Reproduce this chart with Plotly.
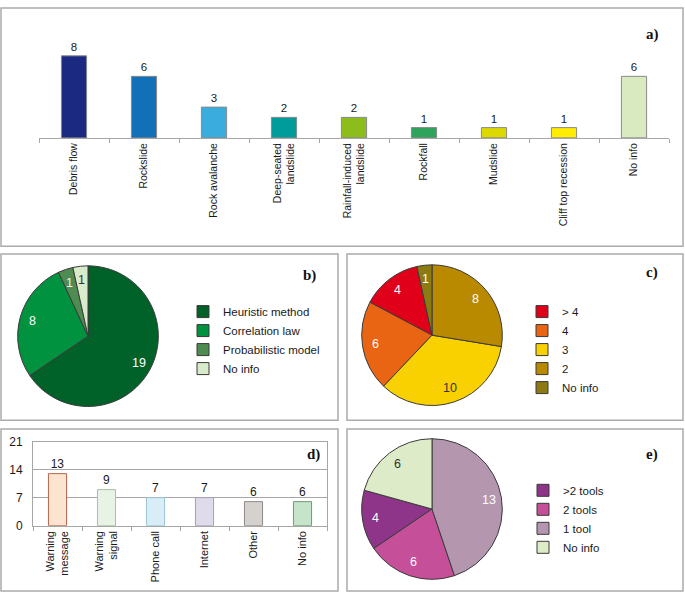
import math
import plotly.graph_objects as go

# ---------------- data ----------------
# a) landslide types
type_labels = ["Debris flow", "Rockslide", "Rock avalanche", "Deep-seated<br>landslide",
               "Rainfall-induced<br>landslide", "Rockfall", "Mudslide", "Cliff top recession", "No info"]
type_counts = [8, 6, 3, 2, 2, 1, 1, 1, 6]
type_colors = ["#1B2A80", "#1170B8", "#3AACDE", "#009B9B", "#8CBD1A",
               "#2EA35C", "#DCD800", "#FFEC00", "#D9EAC0"]

# b) method
method_labels = ["Heuristic method", "Correlation law", "Probabilistic model", "No info"]
method_counts = [19, 8, 1, 1]
method_colors = ["#006129", "#00923F", "#4F8C52", "#D8EBCB"]
method_text = ["white", "white", "#F0F0F0", "#333333"]

# c) number of levels (trailing nbsp keeps legend entries separate from other pies)
level_labels = ["> 4", "4", "3", "2", "No info\u00a0"]
level_counts = [4, 6, 10, 8, 1]
level_colors = ["#E1001A", "#EA6513", "#FAD100", "#B98A00", "#8C7A12"]
level_text = ["white", "white", "#333333", "white", "white"]

# d) communication channel
channel_labels = ["Warning<br>message", "Warning<br>signal", "Phone call", "Internet", "Other", "No info"]
channel_counts = [13, 9, 7, 7, 6, 6]
channel_colors = ["#FDE4D0", "#E8F3E5", "#D8EDF5", "#E0DBEA", "#D5D1CE", "#C5E4CA"]
channel_lines = ["#B4644A", "#A9BDA4", "#9BC3D3", "#A69DBE", "#8F8A86", "#6E9B75"]
channel_ticks = [0, 7, 14, 21]

# e) number of tools
tool_labels = [">2 tools", "2 tools", "1 tool", "No info\u00a0\u00a0"]
tool_counts = [4, 6, 13, 6]
tool_colors = ["#8E3589", "#C64F9A", "#B497AF", "#DDEBC8"]
tool_text = ["white", "white", "white", "#333333"]

W, H = 685, 601
def px(x):
    return x / W
def py(y):
    return 1 - y / H

FONT = "Liberation Sans, Arial, sans-serif"
fig = go.Figure()

# a) bars
fig.add_trace(go.Bar(
    x=type_labels, y=type_counts, marker=dict(color=type_colors, line=dict(color="#8A8A8A", width=1)),
    width=0.36, text=type_counts, textposition="outside", cliponaxis=False,
    textfont=dict(size=11.5, color="#1A1A1A", family=FONT), showlegend=False,
    xaxis="x", yaxis="y"))

# d) bars
fig.add_trace(go.Bar(
    x=channel_labels, y=channel_counts, marker=dict(color=channel_colors, line=dict(color=channel_lines, width=1)),
    width=0.37, text=channel_counts, textposition="outside", cliponaxis=False,
    textfont=dict(size=12, color="#1A1A1A", family=FONT), showlegend=False,
    xaxis="x2", yaxis="y2"))

pie_line = dict(color="#3A3A3A", width=1)
PIE_R = 72  # px radius implied by the square domains below


def add_pie(labels, values, colors, textcolors, direction, rotation, box, legend):
    x0, y0, x1, y1 = box
    fig.add_trace(go.Pie(
        labels=labels, values=values, sort=False, direction=direction, rotation=rotation,
        marker=dict(colors=colors, line=pie_line), textinfo="none",
        domain=dict(x=[px(x0), px(x1)], y=[py(y1), py(y0)]), legend=legend, hoverinfo="label+value"))
    # value labels placed along each slice's mid-angle (angles follow plotly's pie geometry)
    total = sum(values)
    ang = [v * 360.0 / total for v in values]
    cx, cy = (x0 + x1) / 2, (y0 + y1) / 2
    mids = []
    if direction == "clockwise":
        cur = rotation
        for a in ang:
            mids.append(cur + a / 2)
            cur += a
    else:
        cur = rotation + ang[0]
        for a in ang:
            mids.append(cur - a / 2)
            cur -= a
    for v, m, tc in zip(values, mids, textcolors):
        t = math.radians(m)
        rr = 0.80 * PIE_R
        fig.add_annotation(text=str(v), xref="paper", yref="paper",
                           x=px(cx + rr * math.sin(t)), y=py(cy - rr * math.cos(t)),
                           xanchor="center", yanchor="middle",
                           showarrow=False, font=dict(size=12.5, color=tc, family=FONT))


add_pie(method_labels, method_counts, method_colors, method_text, "clockwise", 0,
        (16, 265, 160, 409), "legend")
rot_c = -360 * (level_counts[-1] + level_counts[0]) / sum(level_counts)
add_pie(level_labels, level_counts, level_colors, level_text, "counterclockwise", rot_c,
        (360, 264, 504, 408), "legend2")
rot_e = -360 * (tool_counts[-1] + tool_counts[0]) / sum(tool_counts)
add_pie(tool_labels, tool_counts, tool_colors, tool_text, "counterclockwise", rot_e,
        (360, 442, 504, 586), "legend3")

axis_gray = "#A6A6A6"
legend_common = dict(font=dict(size=11.5, color="#1A1A1A", family=FONT), bgcolor="rgba(0,0,0,0)",
                     xanchor="left", yanchor="top", itemclick=False, itemdoubleclick=False)

fig.update_layout(
    width=W, height=H, margin=dict(l=0, r=0, t=0, b=0),
    paper_bgcolor="white", plot_bgcolor="white",
    font=dict(family=FONT, color="#1A1A1A"),
    xaxis=dict(domain=[px(39), px(669)], showline=True, linecolor=axis_gray, linewidth=1,
               ticks="outside", tickson="boundaries", ticklen=4, tickcolor=axis_gray,
               tickangle=-90, tickfont=dict(size=10.5, color="#1A1A1A"), showgrid=False, anchor="y"),
    yaxis=dict(domain=[py(134), py(39.5)], range=[0, 9], visible=False, anchor="x"),
    xaxis2=dict(domain=[px(33), px(327)], showline=True, linecolor=axis_gray, linewidth=1, mirror=True,
                ticks="outside", tickson="boundaries", ticklen=4, tickcolor=axis_gray,
                tickangle=-90, tickfont=dict(size=11, color="#1A1A1A"), showgrid=False, anchor="y2"),
    yaxis2=dict(domain=[py(531), py(445)], range=[0, 21], tickvals=channel_ticks, showline=True,
                linecolor=axis_gray, linewidth=1, mirror=True, showgrid=True, gridcolor=axis_gray,
                gridwidth=1, ticks="", ticklabelstandoff=7, tickfont=dict(size=12, color="#1A1A1A"),
                zeroline=False, anchor="x2"),
    legend=dict(x=px(183), y=py(297), **legend_common),
    legend2=dict(x=px(522), y=py(297), **legend_common),
    legend3=dict(x=px(523), y=py(480), **legend_common),
)

# panel frames
frames = [(1, 1, 683, 245), (1, 253, 338, 423), (347, 253, 683, 423), (1, 432, 338, 598), (347, 432, 683, 598)]
for x0, y0, x1, y1 in frames:
    fig.add_shape(type="rect", xref="paper", yref="paper", x0=px(x0), x1=px(x1), y0=py(y1), y1=py(y0),
                  line=dict(color="#ABABAB", width=1.5), fillcolor="rgba(0,0,0,0)", layer="below")

# panel letters
letters = [("a)", 652, 28), ("b)", 309, 275), ("c)", 652, 272), ("d)", 313, 458), ("e)", 652, 458)]
for t, x, y in letters:
    fig.add_annotation(text="<b>%s</b>" % t, xref="paper", yref="paper", x=px(x), y=py(y),
                       xanchor="center", yanchor="middle",
                       showarrow=False, font=dict(family="Liberation Serif, Times New Roman, serif", size=15, color="#111111"))

fig.write_html("out.html", config={"displayModeBar": False},
               post_script="document.body.style.margin='0';")
